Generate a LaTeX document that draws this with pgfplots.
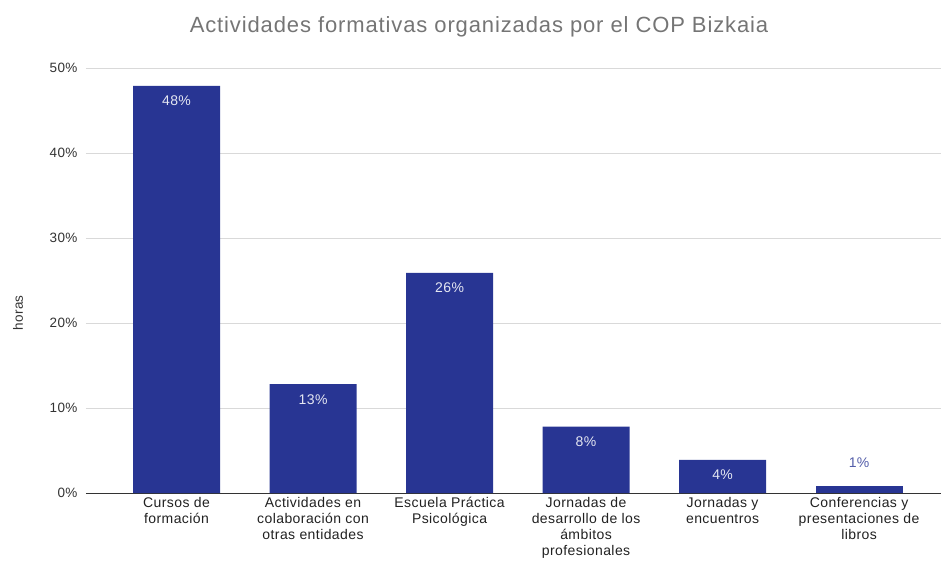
\documentclass[border=0pt]{standalone}
\usepackage{pgfplots}
\pgfplotsset{compat=1.18}
\usepackage{fontspec}
\setmainfont{Liberation Sans}
\newfontfamily\fT[LetterSpace=4]{Liberation Sans}
\newfontfamily\fL[LetterSpace=3]{Liberation Sans}
\definecolor{barc}{HTML}{283593}
\definecolor{gridc}{HTML}{D9D9D9}
\definecolor{titlec}{HTML}{757575}
\definecolor{tickc}{HTML}{333333}
\begin{document}
\begin{tikzpicture}
\path[use as bounding box] (-86pt,-73pt) rectangle (855pt,493pt);
\begin{axis}[
  at={(0pt,0pt)}, anchor=south west,
  scale only axis, width=855pt, height=425pt,
  xmin=-0.663, xmax=5.6, ymin=0, ymax=50,
  ytick={0,10,20,30,40,50},
  xtick={0,1,2,3,4,5},
  xticklabels={{Cursos de\\formación},{Actividades en\\colaboración con\\otras entidades},{Escuela Práctica\\Psicológica},{Jornadas de\\desarrollo de los\\ámbitos\\profesionales},{Jornadas y\\encuentros},{Conferencias y\\presentaciones de\\libros}},
  xticklabel style={align=center, font=\fL\fontsize{14}{16}\selectfont, text=black!87, yshift=-1pt},
  yticklabel={\pgfmathprintnumber{\tick}\%},
  yticklabel style={font=\fL\fontsize{13.5}{15}\selectfont, text=tickc, xshift=-5pt},
  /pgf/number format/assume math mode=true,
  axis line style={draw=none},
  major tick length=0pt,
  ymajorgrids, grid style={gridc, line width=1pt},
  extra y ticks={0}, extra y tick labels={},
  extra y tick style={grid style={tickc, line width=1pt}},
  ybar, bar width=87pt, bar shift=0pt,
  clip=false,
  point meta=explicit symbolic,
  nodes near coords,
  every node near coord/.append style={font=\fL\fontsize{14}{15}\selectfont},
]
\addplot[fill=barc, draw=none,
  every node near coord/.append style={anchor=center, yshift=-15pt, text=white!88!barc}]
  coordinates {(0,47.9)[48\%] (1,12.8)[13\%] (2,25.9)[26\%] (3,7.8)[8\%] (4,3.9)[4\%]};
\addplot[fill=barc, draw=none,
  every node near coord/.append style={anchor=center, yshift=24pt, text=barc!80!white}]
  coordinates {(5,0.8)[1\%]};
\end{axis}
\node[font=\fT\fontsize{22}{24}\selectfont, text=titlec] at (393pt,466pt) {Actividades formativas organizadas por el COP Bizkaia};
\node[rotate=90, font=\fL\fontsize{13.5}{15}\selectfont, text=tickc] at (-68pt,180pt) {horas};
\end{tikzpicture}
\end{document}
